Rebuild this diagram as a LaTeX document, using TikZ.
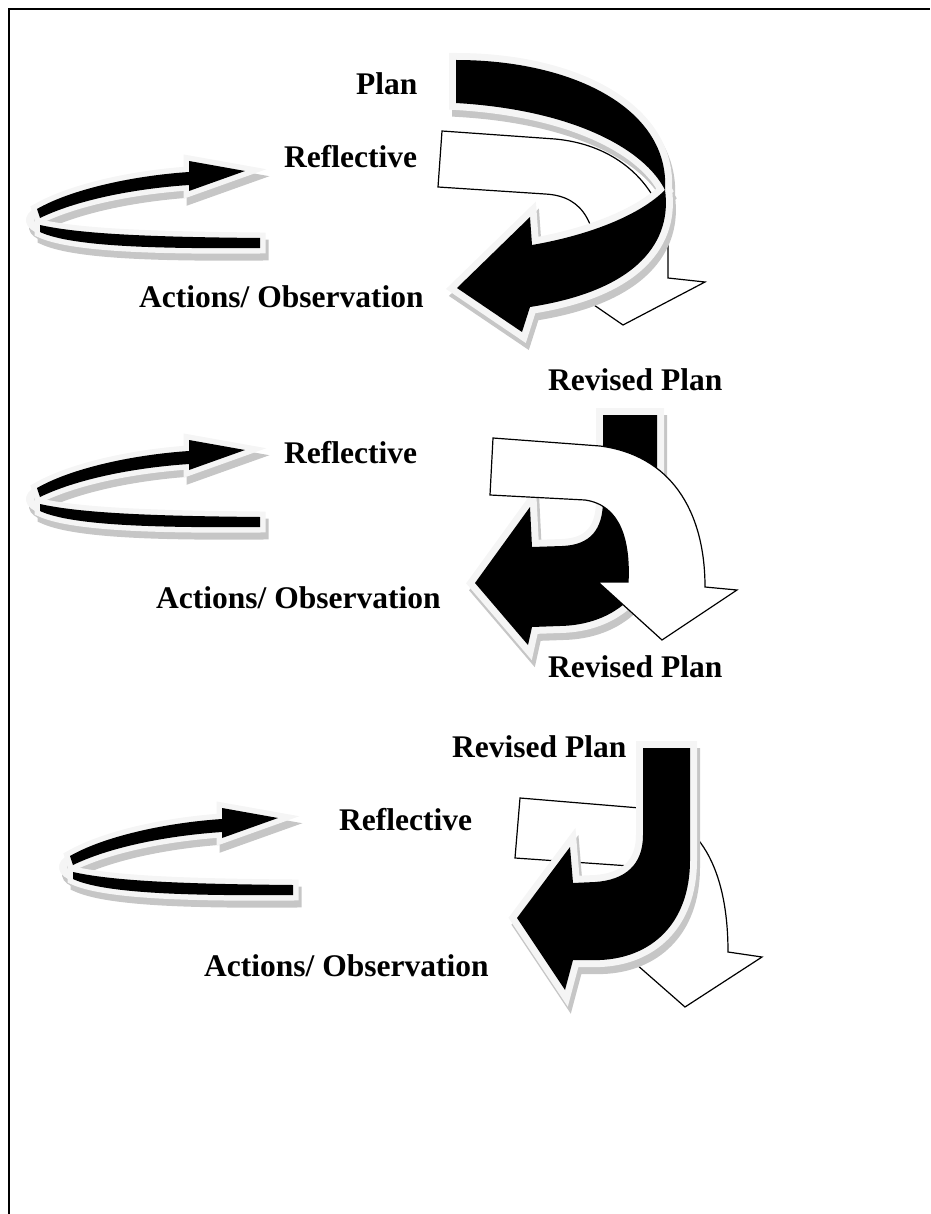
\documentclass[tikz,border=0pt]{standalone}
\usepackage{fontspec}
\setmainfont{Liberation Serif}
\usetikzlibrary{positioning}

% the small reflective loop, drawn about its own origin
\newcommand{\reflectloop}[2]{%
  \begin{scope}[shift={#1}]
    \path[looprim] (38,211) .. controls (26,217) and (28,226) .. (41,230);
    \path[loopband] (37,209) .. controls (70,190) and (130,176) .. (189,172) -- (189,161) -- (245,171) -- (189,191) -- (189,185) .. controls (130,189) and (75,201) .. (40,218) -- cycle;
    \path[loopband] (40,225) .. controls (80,234) and (150,237) .. (260,238) -- (260,248) .. controls (150,249) and (70,246) .. (40,232) -- cycle;
    \coordinate (#2) at (245,171);
  \end{scope}}

\begin{document}
\begin{tikzpicture}[
    x=1pt, y=-1pt,
    lbl/.style={font=\bfseries\fontsize{31.5}{36}\selectfont, inner sep=0pt, anchor=base west},
    extrude/.style={fill=gray!45, draw=gray!45, line width=#1, line join=miter, transform canvas={shift={(3,7)}}},
    solid3d/.style={fill=black, preaction={extrude=#1}, preaction={draw=gray!8, line width=#1, line join=miter}},
    loopband/.style={solid3d=11pt},
    looprim/.style={draw=gray!8, line width=8pt, preaction={draw=gray!45, line width=8pt, transform canvas={shift={(3,7)}}}},
    bigarrow/.style={solid3d=14pt},
    hollow/.style={draw=black, fill=white, line width=1.2pt, line join=miter},
]
\useasboundingbox (0,0) rectangle (930,1214);
\draw[line width=2pt] (8.5,1214) -- (8.5,9) -- (930,9);

% first cycle
\node[lbl] (plan) at (356,95) {Plan};
\node[lbl] (refl1) at (284,168) {Reflective};
\node[lbl] (act1) at (139,308) {Actions/ Observation};
\node[lbl] (rev1) at (548,390) {Revised Plan};
\reflectloop{(0,0)}{tip1}
\path[hollow] (442,131) -- (555,139) .. controls (630,146) and (668,200) .. (668,250) -- (668,278) -- (705,282) -- (623,325) -- (562,283) -- (598,280) .. controls (598,225) and (585,196) .. (545,194) -- (438,187) -- cycle;
\path[bigarrow] (456,60) .. controls (575,60) and (670,110) .. (665,190)
  .. controls (672,240) and (640,290) .. (530,307) -- (522,332) -- (457,288) -- (530,217) -- (532,245)
  .. controls (590,235) and (640,215) .. (665,190)
  .. controls (645,150) and (575,110) .. (456,103) -- cycle;

% second cycle
\node[lbl] (refl2) at (284,463) {Reflective};
\node[lbl] (act2) at (156,608) {Actions/ Observation};
\node[lbl] (rev2) at (548,677) {Revised Plan};
\reflectloop{(0,279)}{tip2}
\path[bigarrow] (603,415) -- (657,415) -- (657,525) .. controls (657,590) and (615,625) .. (560,626) -- (532,627) -- (528,645) -- (475,583) -- (530,507) -- (532,547) -- (562,546) .. controls (590,545) and (603,530) .. (603,500) -- cycle;
\path[hollow] (493,438) -- (600,446) .. controls (670,455) and (705,510) .. (705,587) -- (737,590) -- (662,640) -- (598,582) -- (628,582) .. controls (630,540) and (620,505) .. (585,500) -- (490,495) -- cycle;

% third cycle
\node[lbl] (rev3) at (452,757) {Revised Plan};
\node[lbl] (refl3) at (339,830) {Reflective};
\node[lbl] (act3) at (204,976) {Actions/ Observation};
\reflectloop{(33,647)}{tip3}
\path[hollow] (520,798) -- (640,808) .. controls (700,815) and (728,870) .. (728,952) -- (762,957) -- (685,1007) -- (620,950) -- (655,948) .. controls (655,900) and (650,870) .. (630,866) -- (515,858) -- cycle;
\path[bigarrow] (643,748) -- (690,748) -- (690,860) .. controls (690,925) and (650,958) .. (600,960) -- (573,960) -- (565,990) -- (517,918) -- (570,847) -- (573,883) -- (595,882) .. controls (625,880) and (643,865) .. (643,835) -- cycle;
\end{tikzpicture}
\end{document}
